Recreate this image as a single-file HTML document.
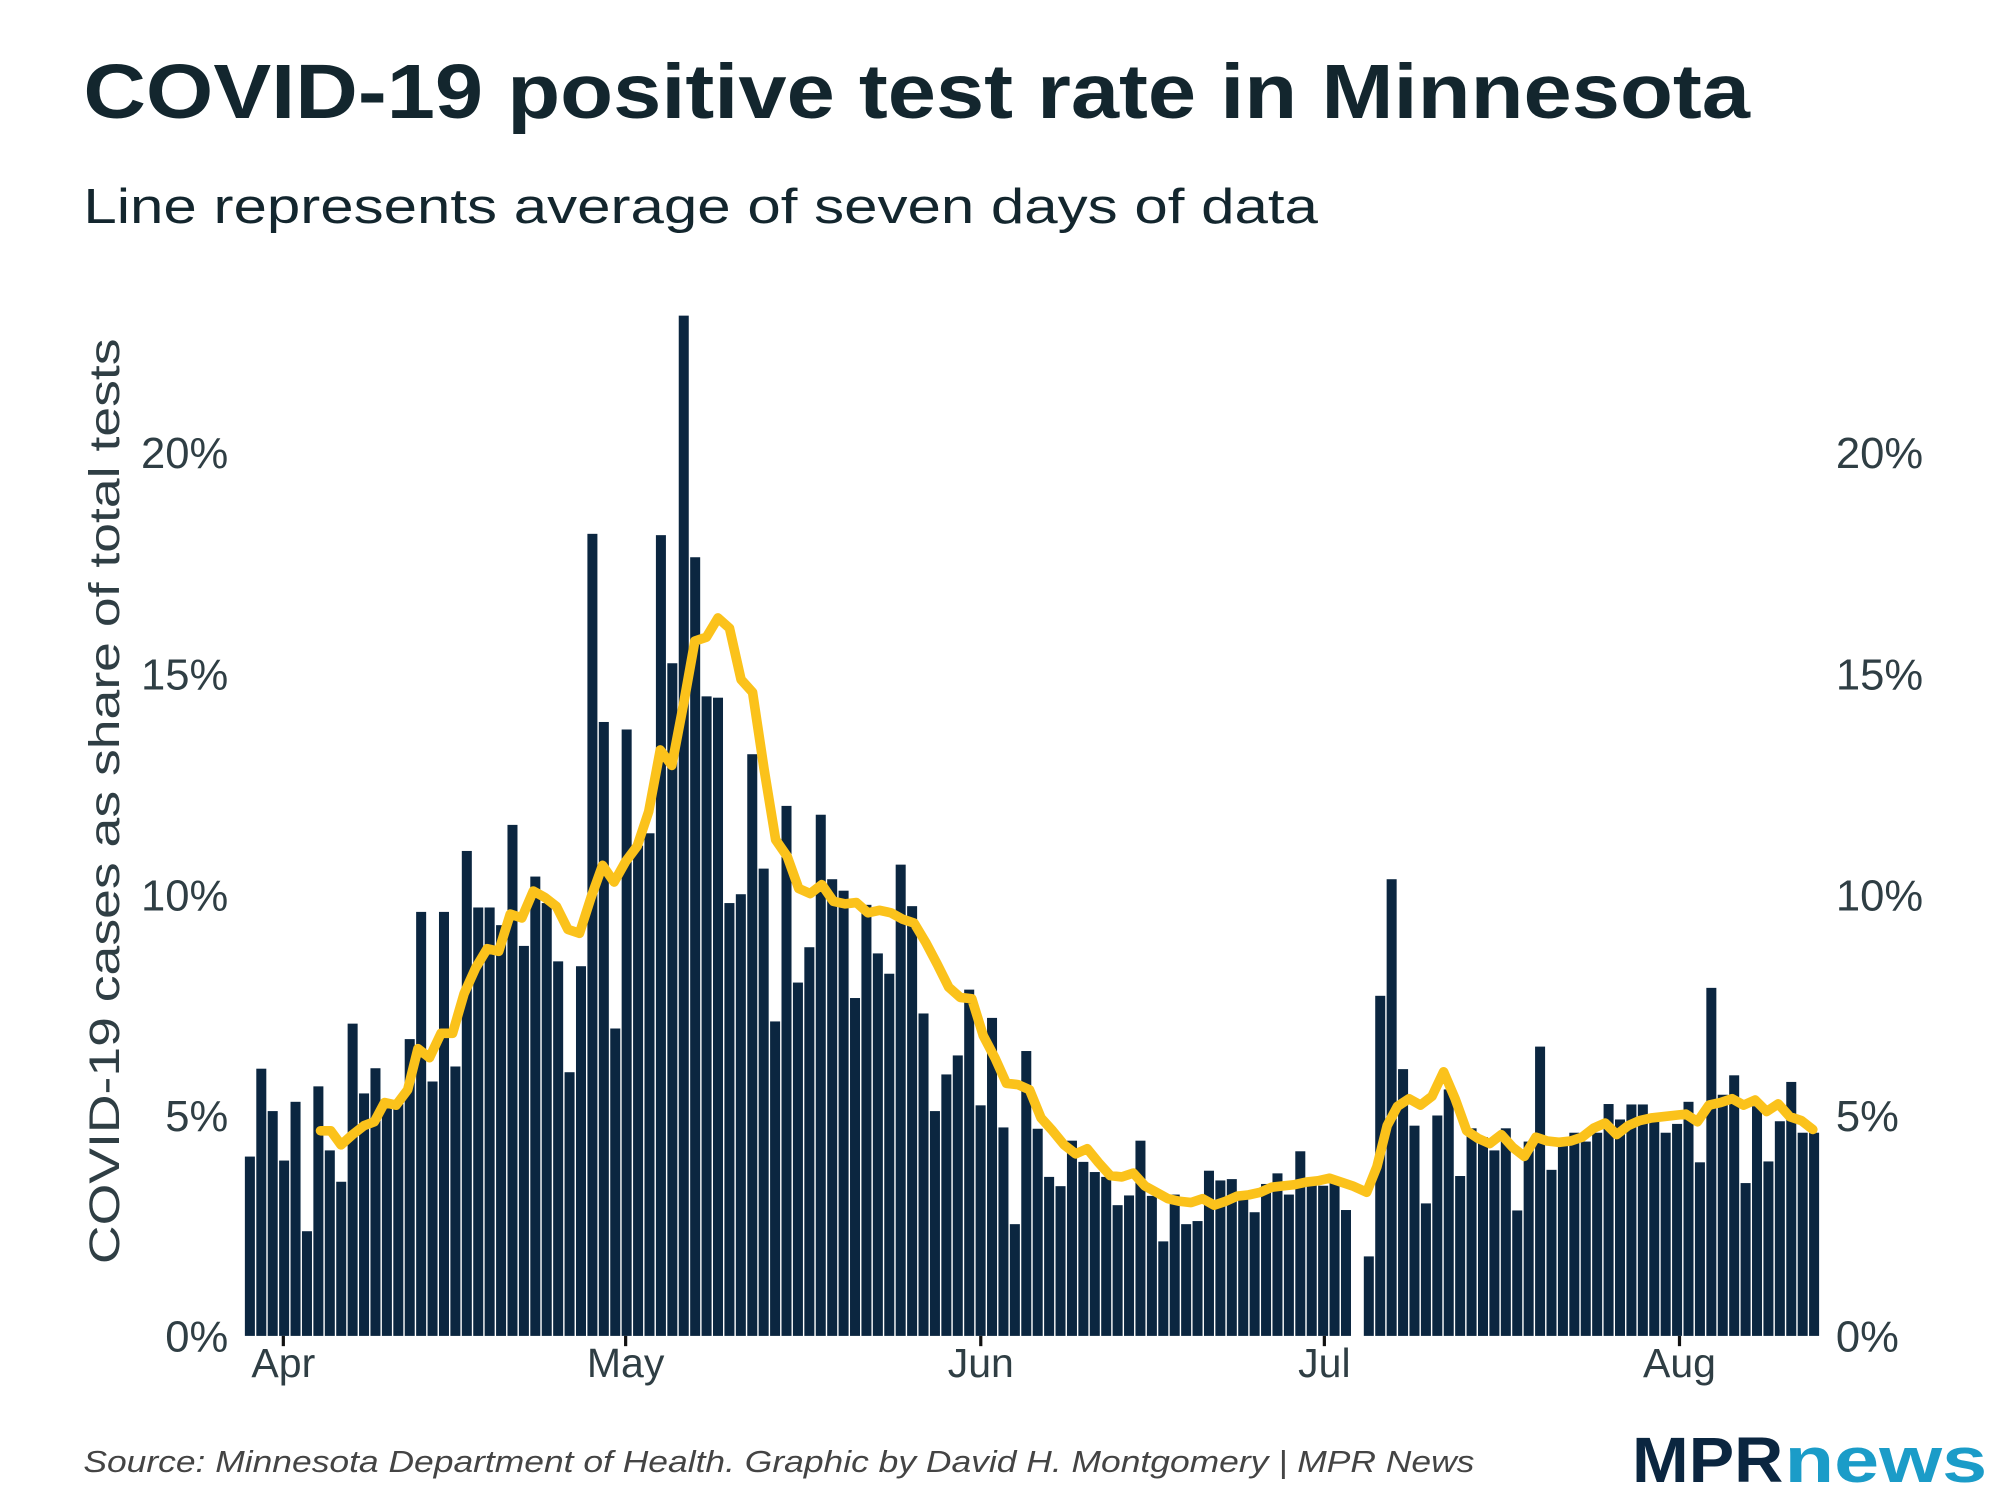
<!DOCTYPE html>
<html><head><meta charset="utf-8"><style>
html,body{margin:0;padding:0;background:#fff;}
svg{display:block;}
text{font-family:"Liberation Sans",Arial,sans-serif;}
</style></head><body>
<svg id="s" width="2000" height="1500" viewBox="0 0 1560 1170" xmlns="http://www.w3.org/2000/svg">
<rect width="1560" height="1170" fill="#fff"/>
<text x="65" y="92" font-size="60" font-weight="bold" fill="#13262e" textLength="1300" lengthAdjust="spacingAndGlyphs">COVID-19 positive test rate in Minnesota</text>
<text x="65" y="174" font-size="38" fill="#13262e" textLength="963" lengthAdjust="spacingAndGlyphs">Line represents average of seven days of data</text>
<g id="bars" fill="#0b2640"></g>
<polyline fill="none" stroke="#fbc21b" stroke-width="7.5" stroke-linejoin="round" stroke-linecap="round" points="250,882 258,882 266,893 275,885 284,878 292,875 300,860 309,862 318,850 326,818 335,825 344,806 353,806 362,775 371,755 380,740 389,742 398,713 407,716 416,695 425,700 434,707 443,725 452,728 461,700 470,675 479,688 488,672 497,660 506,633 515,585 524,597 533,550 542,500 551,497 560,482 569,490 578,530 587,540 596,600 605,655 614,668 623,693 632,697 641,690 650,703 659,705 668,704 677,712 686,710 695,712 704,717 713,720 722,735 731,752 740,770 749,778 758,779 767,808 776,825 785,845 794,846 803,850 812,872 821,882 830,893 839,900 848,896 857,907 866,917 875,918 884,915 893,925 902,930 911,935 920,937 929,938 938,935 947,940 956,937 965,933 974,932 983,930 992,926 1001,925 1010,924 1019,922 1028,921 1037,919 1046,922 1055,925 1066,930 1074,910 1082,878 1090,863 1099,857 1108,862 1117,855 1126,836 1135,857 1144,882 1153,888 1162,892 1171,885 1180,895 1189,902 1198,887 1207,890 1216,891 1225,890 1234,887 1243,880 1252,876 1261,885 1270,878 1279,874 1288,872 1297,871 1306,870 1315,869 1324,875 1333,862 1342,860 1351,857 1360,862 1369,858 1378,867 1387,861 1396,871 1405,874 1414,881"/>
<g font-size="34" fill="#2f3e44">
<text x="178" y="1054" text-anchor="end">0%</text>
<text x="178" y="882" text-anchor="end">5%</text>
<text x="178" y="710" text-anchor="end">10%</text>
<text x="178" y="538" text-anchor="end">15%</text>
<text x="178" y="365" text-anchor="end">20%</text>
<text x="1432" y="1054">0%</text>
<text x="1432" y="882">5%</text>
<text x="1432" y="710">10%</text>
<text x="1432" y="538">15%</text>
<text x="1432" y="365">20%</text>
</g>
<g font-size="32" fill="#2f3e44">
<text x="221" y="1074" text-anchor="middle">Apr</text>
<text x="488" y="1074" text-anchor="middle">May</text>
<text x="765" y="1074" text-anchor="middle">Jun</text>
<text x="1033" y="1074" text-anchor="middle">Jul</text>
<text x="1310" y="1074" text-anchor="middle">Aug</text>
</g>
<g stroke="#111" stroke-width="2.5">
<line x1="221" y1="1042" x2="221" y2="1050"/><line x1="488" y1="1042" x2="488" y2="1050"/><line x1="765" y1="1042" x2="765" y2="1050"/><line x1="1033" y1="1042" x2="1033" y2="1050"/><line x1="1310" y1="1042" x2="1310" y2="1050"/>
</g>
<text transform="translate(93,625) rotate(-90)" font-size="33" fill="#2f3e44" text-anchor="middle" textLength="722" lengthAdjust="spacingAndGlyphs">COVID-19 cases as share of total tests</text>
<text x="65" y="1148" font-size="24" font-style="italic" fill="#444" textLength="1085" lengthAdjust="spacingAndGlyphs">Source: Minnesota Department of Health. Graphic by David H. Montgomery | MPR News</text>
<text x="1273" y="1156" font-size="50" font-weight="bold" fill="#0b2640" textLength="118" lengthAdjust="spacingAndGlyphs">MPR</text>
<text x="1392" y="1156" font-size="50" font-weight="bold" fill="#1b9cc8" textLength="158" lengthAdjust="spacingAndGlyphs">news</text>
</svg>
<script>
var d=[4.06,6.05,5.09,3.97,5.3,2.37,5.65,4.2,3.49,7.07,5.49,6.06,5.25,5.25,6.72,9.6,5.76,9.6,6.1,10.98,9.7,9.7,9.3,11.57,8.83,10.4,9.8,8.48,5.97,8.37,18.16,13.9,6.96,13.73,11.1,11.38,18.13,15.23,23.1,17.63,14.48,14.45,9.8,10.0,13.17,10.58,7.12,12.0,8.0,8.8,11.8,
10.34,10.08,7.65,9.76,8.66,8.2,10.67,9.73,7.3,5.09,5.92,6.35,7.84,5.22,7.2,4.72,2.53,6.45,4.69,3.6,3.39,4.42,3.94,3.71,3.6,2.96,3.18,4.42,3.17,2.14,3.2,2.53,2.6,3.74,3.52,3.55,3.17,2.8,3.44,3.68,3.2,4.18,3.57,3.4,3.54,2.85,
null,
1.8,7.7,10.34,6.04,4.76,3.0,4.99,5.58,3.62,4.7,4.5,4.2,4.7,2.84,4.4,6.55,3.76,4.4,4.6,4.4,4.6,5.25,4.9,5.24,5.24,4.9,4.6,4.8,5.3,3.93,7.88,5.46,5.9,3.46,5.2,3.95,4.86,5.75,4.6,4.6];
var g=document.getElementById('bars'),n=d.length,step=(1420-191)/n,h='';
for(var i=0;i<n;i++){if(d[i]==null)continue;var hh=d[i]*34.45;h+='<rect x="'+(191+i*step).toFixed(2)+'" y="'+(1042-hh).toFixed(2)+'" width="'+(step-1.1).toFixed(2)+'" height="'+hh.toFixed(2)+'"/>';}
g.innerHTML=h;
</script>
</body></html>
